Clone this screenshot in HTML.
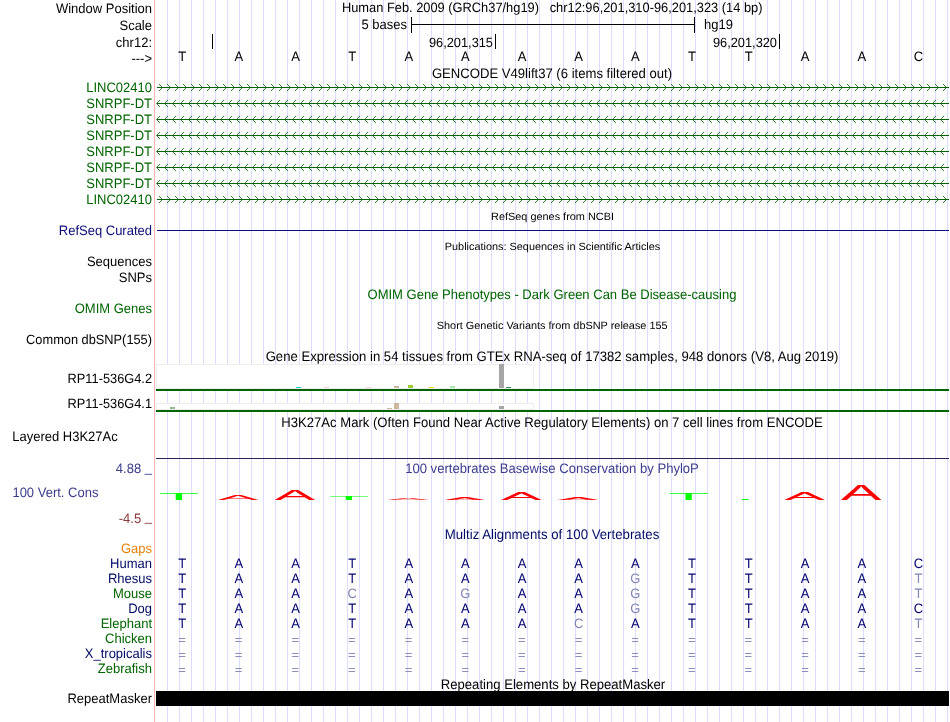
<!DOCTYPE html>
<html><head><meta charset="utf-8"><title>UCSC Genome Browser chr12:96,201,310-96,201,323</title>
<style>html,body{margin:0;padding:0;background:#fff;}svg{display:block;font-family:"Liberation Sans", Arial, Helvetica, sans-serif;text-rendering:geometricPrecision;}</style></head>
<body><svg width="950" height="722" viewBox="0 0 950 722">
<rect width="950" height="722" fill="#fff"/>
<path d="M167.5 0V722M179.5 0V722M191.5 0V722M203.5 0V722M215.5 0V722M227.5 0V722M239.5 0V722M251.5 0V722M263.5 0V722M275.5 0V722M287.5 0V722M299.5 0V722M311.5 0V722M323.5 0V722M335.5 0V722M347.5 0V722M359.5 0V722M371.5 0V722M383.5 0V722M395.5 0V722M407.5 0V722M419.5 0V722M431.5 0V722M443.5 0V722M455.5 0V722M467.5 0V722M479.5 0V722M491.5 0V722M503.5 0V722M515.5 0V722M527.5 0V722M539.5 0V722M551.5 0V722M563.5 0V722M575.5 0V722M587.5 0V722M599.5 0V722M611.5 0V722M623.5 0V722M635.5 0V722M647.5 0V722M659.5 0V722M671.5 0V722M683.5 0V722M695.5 0V722M707.5 0V722M719.5 0V722M731.5 0V722M743.5 0V722M755.5 0V722M767.5 0V722M779.5 0V722M791.5 0V722M803.5 0V722M815.5 0V722M827.5 0V722M839.5 0V722M851.5 0V722M863.5 0V722M875.5 0V722M887.5 0V722M899.5 0V722M911.5 0V722M923.5 0V722M935.5 0V722M947.5 0V722" stroke="#dcdcff" stroke-width="1" fill="none" shape-rendering="crispEdges"/>
<rect x="154" y="0" width="1" height="722" fill="#ffb4b4"/>
<text transform="translate(152,13) scale(1,1.05)" fill="#000000" text-anchor="end" font-size="13" >Window Position</text>
<text transform="translate(152,30) scale(1,1.05)" fill="#000000" text-anchor="end" font-size="13" >Scale</text>
<text transform="translate(152,47) scale(1,1.05)" fill="#000000" text-anchor="end" font-size="13" >chr12:</text>
<text transform="translate(152,62.7) scale(1,1.05)" fill="#000000" text-anchor="end" font-size="13" >---&gt;</text>
<text transform="translate(552.2,12) scale(1,1.05)" fill="#000000" text-anchor="middle" font-size="12.85" xml:space="preserve">Human Feb. 2009 (GRCh37/hg19)   chr12:96,201,310-96,201,323 (14 bp)</text>
<text transform="translate(407,29) scale(1,1.05)" fill="#000000" text-anchor="end" font-size="13" >5 bases</text>
<rect x="411" y="17" width="1" height="16" fill="#000000"/>
<rect x="694" y="17" width="1" height="16" fill="#000000"/>
<rect x="411" y="24" width="284" height="1" fill="#000000"/>
<text transform="translate(704,29) scale(1,1.05)" fill="#000000" text-anchor="start" font-size="13" >hg19</text>
<rect x="212" y="34" width="1" height="15" fill="#000000"/>
<rect x="495" y="34" width="1" height="15" fill="#000000"/>
<rect x="779" y="34" width="1" height="15" fill="#000000"/>
<text transform="translate(493,47) scale(1,1.05)" fill="#000000" text-anchor="end" font-size="12.8" >96,201,315</text>
<text transform="translate(777,47) scale(1,1.05)" fill="#000000" text-anchor="end" font-size="12.8" >96,201,320</text>
<text transform="translate(182.2,61) scale(1,1.05)" fill="#000000" text-anchor="middle" font-size="13" >T</text>
<text transform="translate(238.8,61) scale(1,1.05)" fill="#000000" text-anchor="middle" font-size="13" >A</text>
<text transform="translate(295.5,61) scale(1,1.05)" fill="#000000" text-anchor="middle" font-size="13" >A</text>
<text transform="translate(352.1,61) scale(1,1.05)" fill="#000000" text-anchor="middle" font-size="13" >T</text>
<text transform="translate(408.8,61) scale(1,1.05)" fill="#000000" text-anchor="middle" font-size="13" >A</text>
<text transform="translate(465.4,61) scale(1,1.05)" fill="#000000" text-anchor="middle" font-size="13" >A</text>
<text transform="translate(522.0,61) scale(1,1.05)" fill="#000000" text-anchor="middle" font-size="13" >A</text>
<text transform="translate(578.7,61) scale(1,1.05)" fill="#000000" text-anchor="middle" font-size="13" >A</text>
<text transform="translate(635.3,61) scale(1,1.05)" fill="#000000" text-anchor="middle" font-size="13" >A</text>
<text transform="translate(692.0,61) scale(1,1.05)" fill="#000000" text-anchor="middle" font-size="13" >T</text>
<text transform="translate(748.6,61) scale(1,1.05)" fill="#000000" text-anchor="middle" font-size="13" >T</text>
<text transform="translate(805.2,61) scale(1,1.05)" fill="#000000" text-anchor="middle" font-size="13" >A</text>
<text transform="translate(861.9,61) scale(1,1.05)" fill="#000000" text-anchor="middle" font-size="13" >A</text>
<text transform="translate(918.5,61) scale(1,1.05)" fill="#000000" text-anchor="middle" font-size="13" >C</text>
<text transform="translate(552,78) scale(1,1.05)" fill="#000000" text-anchor="middle" font-size="13.1" >GENCODE V49lift37 (6 items filtered out)</text>
<text transform="translate(152,92) scale(1,1.05)" fill="#006400" text-anchor="end" font-size="13" >LINC02410</text>
<rect x="157" y="87" width="792" height="1" fill="#006400"/>
<path d="M159 84L162 87M162 88L159 91M167 84L170 87M170 88L167 91M175 84L178 87M178 88L175 91M183 84L186 87M186 88L183 91M191 84L194 87M194 88L191 91M199 84L202 87M202 88L199 91M207 84L210 87M210 88L207 91M215 84L218 87M218 88L215 91M223 84L226 87M226 88L223 91M231 84L234 87M234 88L231 91M239 84L242 87M242 88L239 91M247 84L250 87M250 88L247 91M255 84L258 87M258 88L255 91M263 84L266 87M266 88L263 91M271 84L274 87M274 88L271 91M279 84L282 87M282 88L279 91M287 84L290 87M290 88L287 91M295 84L298 87M298 88L295 91M303 84L306 87M306 88L303 91M311 84L314 87M314 88L311 91M319 84L322 87M322 88L319 91M327 84L330 87M330 88L327 91M335 84L338 87M338 88L335 91M343 84L346 87M346 88L343 91M351 84L354 87M354 88L351 91M359 84L362 87M362 88L359 91M367 84L370 87M370 88L367 91M375 84L378 87M378 88L375 91M383 84L386 87M386 88L383 91M391 84L394 87M394 88L391 91M399 84L402 87M402 88L399 91M407 84L410 87M410 88L407 91M415 84L418 87M418 88L415 91M423 84L426 87M426 88L423 91M431 84L434 87M434 88L431 91M439 84L442 87M442 88L439 91M447 84L450 87M450 88L447 91M455 84L458 87M458 88L455 91M463 84L466 87M466 88L463 91M471 84L474 87M474 88L471 91M479 84L482 87M482 88L479 91M487 84L490 87M490 88L487 91M495 84L498 87M498 88L495 91M503 84L506 87M506 88L503 91M511 84L514 87M514 88L511 91M519 84L522 87M522 88L519 91M527 84L530 87M530 88L527 91M535 84L538 87M538 88L535 91M543 84L546 87M546 88L543 91M551 84L554 87M554 88L551 91M559 84L562 87M562 88L559 91M567 84L570 87M570 88L567 91M575 84L578 87M578 88L575 91M583 84L586 87M586 88L583 91M591 84L594 87M594 88L591 91M599 84L602 87M602 88L599 91M607 84L610 87M610 88L607 91M615 84L618 87M618 88L615 91M623 84L626 87M626 88L623 91M631 84L634 87M634 88L631 91M639 84L642 87M642 88L639 91M647 84L650 87M650 88L647 91M655 84L658 87M658 88L655 91M663 84L666 87M666 88L663 91M671 84L674 87M674 88L671 91M679 84L682 87M682 88L679 91M687 84L690 87M690 88L687 91M695 84L698 87M698 88L695 91M703 84L706 87M706 88L703 91M711 84L714 87M714 88L711 91M719 84L722 87M722 88L719 91M727 84L730 87M730 88L727 91M735 84L738 87M738 88L735 91M743 84L746 87M746 88L743 91M751 84L754 87M754 88L751 91M759 84L762 87M762 88L759 91M767 84L770 87M770 88L767 91M775 84L778 87M778 88L775 91M783 84L786 87M786 88L783 91M791 84L794 87M794 88L791 91M799 84L802 87M802 88L799 91M807 84L810 87M810 88L807 91M815 84L818 87M818 88L815 91M823 84L826 87M826 88L823 91M831 84L834 87M834 88L831 91M839 84L842 87M842 88L839 91M847 84L850 87M850 88L847 91M855 84L858 87M858 88L855 91M863 84L866 87M866 88L863 91M871 84L874 87M874 88L871 91M879 84L882 87M882 88L879 91M887 84L890 87M890 88L887 91M895 84L898 87M898 88L895 91M903 84L906 87M906 88L903 91M911 84L914 87M914 88L911 91M919 84L922 87M922 88L919 91M927 84L930 87M930 88L927 91M935 84L938 87M938 88L935 91M943 84L946 87M946 88L943 91" stroke="#006400" stroke-width="0.8" fill="none"/>
<text transform="translate(152,108) scale(1,1.05)" fill="#006400" text-anchor="end" font-size="13" >SNRPF-DT</text>
<rect x="156.4" y="103" width="792.6" height="1" fill="#006400"/>
<path d="M160 100L157 103M157 104L160 107M168 100L165 103M165 104L168 107M176 100L173 103M173 104L176 107M184 100L181 103M181 104L184 107M192 100L189 103M189 104L192 107M200 100L197 103M197 104L200 107M208 100L205 103M205 104L208 107M216 100L213 103M213 104L216 107M224 100L221 103M221 104L224 107M232 100L229 103M229 104L232 107M240 100L237 103M237 104L240 107M248 100L245 103M245 104L248 107M256 100L253 103M253 104L256 107M264 100L261 103M261 104L264 107M272 100L269 103M269 104L272 107M280 100L277 103M277 104L280 107M288 100L285 103M285 104L288 107M296 100L293 103M293 104L296 107M304 100L301 103M301 104L304 107M312 100L309 103M309 104L312 107M320 100L317 103M317 104L320 107M328 100L325 103M325 104L328 107M336 100L333 103M333 104L336 107M344 100L341 103M341 104L344 107M352 100L349 103M349 104L352 107M360 100L357 103M357 104L360 107M368 100L365 103M365 104L368 107M376 100L373 103M373 104L376 107M384 100L381 103M381 104L384 107M392 100L389 103M389 104L392 107M400 100L397 103M397 104L400 107M408 100L405 103M405 104L408 107M416 100L413 103M413 104L416 107M424 100L421 103M421 104L424 107M432 100L429 103M429 104L432 107M440 100L437 103M437 104L440 107M448 100L445 103M445 104L448 107M456 100L453 103M453 104L456 107M464 100L461 103M461 104L464 107M472 100L469 103M469 104L472 107M480 100L477 103M477 104L480 107M488 100L485 103M485 104L488 107M496 100L493 103M493 104L496 107M504 100L501 103M501 104L504 107M512 100L509 103M509 104L512 107M520 100L517 103M517 104L520 107M528 100L525 103M525 104L528 107M536 100L533 103M533 104L536 107M544 100L541 103M541 104L544 107M552 100L549 103M549 104L552 107M560 100L557 103M557 104L560 107M568 100L565 103M565 104L568 107M576 100L573 103M573 104L576 107M584 100L581 103M581 104L584 107M592 100L589 103M589 104L592 107M600 100L597 103M597 104L600 107M608 100L605 103M605 104L608 107M616 100L613 103M613 104L616 107M624 100L621 103M621 104L624 107M632 100L629 103M629 104L632 107M640 100L637 103M637 104L640 107M648 100L645 103M645 104L648 107M656 100L653 103M653 104L656 107M664 100L661 103M661 104L664 107M672 100L669 103M669 104L672 107M680 100L677 103M677 104L680 107M688 100L685 103M685 104L688 107M696 100L693 103M693 104L696 107M704 100L701 103M701 104L704 107M712 100L709 103M709 104L712 107M720 100L717 103M717 104L720 107M728 100L725 103M725 104L728 107M736 100L733 103M733 104L736 107M744 100L741 103M741 104L744 107M752 100L749 103M749 104L752 107M760 100L757 103M757 104L760 107M768 100L765 103M765 104L768 107M776 100L773 103M773 104L776 107M784 100L781 103M781 104L784 107M792 100L789 103M789 104L792 107M800 100L797 103M797 104L800 107M808 100L805 103M805 104L808 107M816 100L813 103M813 104L816 107M824 100L821 103M821 104L824 107M832 100L829 103M829 104L832 107M840 100L837 103M837 104L840 107M848 100L845 103M845 104L848 107M856 100L853 103M853 104L856 107M864 100L861 103M861 104L864 107M872 100L869 103M869 104L872 107M880 100L877 103M877 104L880 107M888 100L885 103M885 104L888 107M896 100L893 103M893 104L896 107M904 100L901 103M901 104L904 107M912 100L909 103M909 104L912 107M920 100L917 103M917 104L920 107M928 100L925 103M925 104L928 107M936 100L933 103M933 104L936 107M944 100L941 103M941 104L944 107" stroke="#006400" stroke-width="0.8" fill="none"/>
<text transform="translate(152,124) scale(1,1.05)" fill="#006400" text-anchor="end" font-size="13" >SNRPF-DT</text>
<rect x="156.4" y="119" width="792.6" height="1" fill="#006400"/>
<path d="M160 116L157 119M157 120L160 123M168 116L165 119M165 120L168 123M176 116L173 119M173 120L176 123M184 116L181 119M181 120L184 123M192 116L189 119M189 120L192 123M200 116L197 119M197 120L200 123M208 116L205 119M205 120L208 123M216 116L213 119M213 120L216 123M224 116L221 119M221 120L224 123M232 116L229 119M229 120L232 123M240 116L237 119M237 120L240 123M248 116L245 119M245 120L248 123M256 116L253 119M253 120L256 123M264 116L261 119M261 120L264 123M272 116L269 119M269 120L272 123M280 116L277 119M277 120L280 123M288 116L285 119M285 120L288 123M296 116L293 119M293 120L296 123M304 116L301 119M301 120L304 123M312 116L309 119M309 120L312 123M320 116L317 119M317 120L320 123M328 116L325 119M325 120L328 123M336 116L333 119M333 120L336 123M344 116L341 119M341 120L344 123M352 116L349 119M349 120L352 123M360 116L357 119M357 120L360 123M368 116L365 119M365 120L368 123M376 116L373 119M373 120L376 123M384 116L381 119M381 120L384 123M392 116L389 119M389 120L392 123M400 116L397 119M397 120L400 123M408 116L405 119M405 120L408 123M416 116L413 119M413 120L416 123M424 116L421 119M421 120L424 123M432 116L429 119M429 120L432 123M440 116L437 119M437 120L440 123M448 116L445 119M445 120L448 123M456 116L453 119M453 120L456 123M464 116L461 119M461 120L464 123M472 116L469 119M469 120L472 123M480 116L477 119M477 120L480 123M488 116L485 119M485 120L488 123M496 116L493 119M493 120L496 123M504 116L501 119M501 120L504 123M512 116L509 119M509 120L512 123M520 116L517 119M517 120L520 123M528 116L525 119M525 120L528 123M536 116L533 119M533 120L536 123M544 116L541 119M541 120L544 123M552 116L549 119M549 120L552 123M560 116L557 119M557 120L560 123M568 116L565 119M565 120L568 123M576 116L573 119M573 120L576 123M584 116L581 119M581 120L584 123M592 116L589 119M589 120L592 123M600 116L597 119M597 120L600 123M608 116L605 119M605 120L608 123M616 116L613 119M613 120L616 123M624 116L621 119M621 120L624 123M632 116L629 119M629 120L632 123M640 116L637 119M637 120L640 123M648 116L645 119M645 120L648 123M656 116L653 119M653 120L656 123M664 116L661 119M661 120L664 123M672 116L669 119M669 120L672 123M680 116L677 119M677 120L680 123M688 116L685 119M685 120L688 123M696 116L693 119M693 120L696 123M704 116L701 119M701 120L704 123M712 116L709 119M709 120L712 123M720 116L717 119M717 120L720 123M728 116L725 119M725 120L728 123M736 116L733 119M733 120L736 123M744 116L741 119M741 120L744 123M752 116L749 119M749 120L752 123M760 116L757 119M757 120L760 123M768 116L765 119M765 120L768 123M776 116L773 119M773 120L776 123M784 116L781 119M781 120L784 123M792 116L789 119M789 120L792 123M800 116L797 119M797 120L800 123M808 116L805 119M805 120L808 123M816 116L813 119M813 120L816 123M824 116L821 119M821 120L824 123M832 116L829 119M829 120L832 123M840 116L837 119M837 120L840 123M848 116L845 119M845 120L848 123M856 116L853 119M853 120L856 123M864 116L861 119M861 120L864 123M872 116L869 119M869 120L872 123M880 116L877 119M877 120L880 123M888 116L885 119M885 120L888 123M896 116L893 119M893 120L896 123M904 116L901 119M901 120L904 123M912 116L909 119M909 120L912 123M920 116L917 119M917 120L920 123M928 116L925 119M925 120L928 123M936 116L933 119M933 120L936 123M944 116L941 119M941 120L944 123" stroke="#006400" stroke-width="0.8" fill="none"/>
<text transform="translate(152,140) scale(1,1.05)" fill="#006400" text-anchor="end" font-size="13" >SNRPF-DT</text>
<rect x="156.4" y="135" width="792.6" height="1" fill="#006400"/>
<path d="M160 132L157 135M157 136L160 139M168 132L165 135M165 136L168 139M176 132L173 135M173 136L176 139M184 132L181 135M181 136L184 139M192 132L189 135M189 136L192 139M200 132L197 135M197 136L200 139M208 132L205 135M205 136L208 139M216 132L213 135M213 136L216 139M224 132L221 135M221 136L224 139M232 132L229 135M229 136L232 139M240 132L237 135M237 136L240 139M248 132L245 135M245 136L248 139M256 132L253 135M253 136L256 139M264 132L261 135M261 136L264 139M272 132L269 135M269 136L272 139M280 132L277 135M277 136L280 139M288 132L285 135M285 136L288 139M296 132L293 135M293 136L296 139M304 132L301 135M301 136L304 139M312 132L309 135M309 136L312 139M320 132L317 135M317 136L320 139M328 132L325 135M325 136L328 139M336 132L333 135M333 136L336 139M344 132L341 135M341 136L344 139M352 132L349 135M349 136L352 139M360 132L357 135M357 136L360 139M368 132L365 135M365 136L368 139M376 132L373 135M373 136L376 139M384 132L381 135M381 136L384 139M392 132L389 135M389 136L392 139M400 132L397 135M397 136L400 139M408 132L405 135M405 136L408 139M416 132L413 135M413 136L416 139M424 132L421 135M421 136L424 139M432 132L429 135M429 136L432 139M440 132L437 135M437 136L440 139M448 132L445 135M445 136L448 139M456 132L453 135M453 136L456 139M464 132L461 135M461 136L464 139M472 132L469 135M469 136L472 139M480 132L477 135M477 136L480 139M488 132L485 135M485 136L488 139M496 132L493 135M493 136L496 139M504 132L501 135M501 136L504 139M512 132L509 135M509 136L512 139M520 132L517 135M517 136L520 139M528 132L525 135M525 136L528 139M536 132L533 135M533 136L536 139M544 132L541 135M541 136L544 139M552 132L549 135M549 136L552 139M560 132L557 135M557 136L560 139M568 132L565 135M565 136L568 139M576 132L573 135M573 136L576 139M584 132L581 135M581 136L584 139M592 132L589 135M589 136L592 139M600 132L597 135M597 136L600 139M608 132L605 135M605 136L608 139M616 132L613 135M613 136L616 139M624 132L621 135M621 136L624 139M632 132L629 135M629 136L632 139M640 132L637 135M637 136L640 139M648 132L645 135M645 136L648 139M656 132L653 135M653 136L656 139M664 132L661 135M661 136L664 139M672 132L669 135M669 136L672 139M680 132L677 135M677 136L680 139M688 132L685 135M685 136L688 139M696 132L693 135M693 136L696 139M704 132L701 135M701 136L704 139M712 132L709 135M709 136L712 139M720 132L717 135M717 136L720 139M728 132L725 135M725 136L728 139M736 132L733 135M733 136L736 139M744 132L741 135M741 136L744 139M752 132L749 135M749 136L752 139M760 132L757 135M757 136L760 139M768 132L765 135M765 136L768 139M776 132L773 135M773 136L776 139M784 132L781 135M781 136L784 139M792 132L789 135M789 136L792 139M800 132L797 135M797 136L800 139M808 132L805 135M805 136L808 139M816 132L813 135M813 136L816 139M824 132L821 135M821 136L824 139M832 132L829 135M829 136L832 139M840 132L837 135M837 136L840 139M848 132L845 135M845 136L848 139M856 132L853 135M853 136L856 139M864 132L861 135M861 136L864 139M872 132L869 135M869 136L872 139M880 132L877 135M877 136L880 139M888 132L885 135M885 136L888 139M896 132L893 135M893 136L896 139M904 132L901 135M901 136L904 139M912 132L909 135M909 136L912 139M920 132L917 135M917 136L920 139M928 132L925 135M925 136L928 139M936 132L933 135M933 136L936 139M944 132L941 135M941 136L944 139" stroke="#006400" stroke-width="0.8" fill="none"/>
<text transform="translate(152,156) scale(1,1.05)" fill="#006400" text-anchor="end" font-size="13" >SNRPF-DT</text>
<rect x="156.4" y="151" width="792.6" height="1" fill="#006400"/>
<path d="M160 148L157 151M157 152L160 155M168 148L165 151M165 152L168 155M176 148L173 151M173 152L176 155M184 148L181 151M181 152L184 155M192 148L189 151M189 152L192 155M200 148L197 151M197 152L200 155M208 148L205 151M205 152L208 155M216 148L213 151M213 152L216 155M224 148L221 151M221 152L224 155M232 148L229 151M229 152L232 155M240 148L237 151M237 152L240 155M248 148L245 151M245 152L248 155M256 148L253 151M253 152L256 155M264 148L261 151M261 152L264 155M272 148L269 151M269 152L272 155M280 148L277 151M277 152L280 155M288 148L285 151M285 152L288 155M296 148L293 151M293 152L296 155M304 148L301 151M301 152L304 155M312 148L309 151M309 152L312 155M320 148L317 151M317 152L320 155M328 148L325 151M325 152L328 155M336 148L333 151M333 152L336 155M344 148L341 151M341 152L344 155M352 148L349 151M349 152L352 155M360 148L357 151M357 152L360 155M368 148L365 151M365 152L368 155M376 148L373 151M373 152L376 155M384 148L381 151M381 152L384 155M392 148L389 151M389 152L392 155M400 148L397 151M397 152L400 155M408 148L405 151M405 152L408 155M416 148L413 151M413 152L416 155M424 148L421 151M421 152L424 155M432 148L429 151M429 152L432 155M440 148L437 151M437 152L440 155M448 148L445 151M445 152L448 155M456 148L453 151M453 152L456 155M464 148L461 151M461 152L464 155M472 148L469 151M469 152L472 155M480 148L477 151M477 152L480 155M488 148L485 151M485 152L488 155M496 148L493 151M493 152L496 155M504 148L501 151M501 152L504 155M512 148L509 151M509 152L512 155M520 148L517 151M517 152L520 155M528 148L525 151M525 152L528 155M536 148L533 151M533 152L536 155M544 148L541 151M541 152L544 155M552 148L549 151M549 152L552 155M560 148L557 151M557 152L560 155M568 148L565 151M565 152L568 155M576 148L573 151M573 152L576 155M584 148L581 151M581 152L584 155M592 148L589 151M589 152L592 155M600 148L597 151M597 152L600 155M608 148L605 151M605 152L608 155M616 148L613 151M613 152L616 155M624 148L621 151M621 152L624 155M632 148L629 151M629 152L632 155M640 148L637 151M637 152L640 155M648 148L645 151M645 152L648 155M656 148L653 151M653 152L656 155M664 148L661 151M661 152L664 155M672 148L669 151M669 152L672 155M680 148L677 151M677 152L680 155M688 148L685 151M685 152L688 155M696 148L693 151M693 152L696 155M704 148L701 151M701 152L704 155M712 148L709 151M709 152L712 155M720 148L717 151M717 152L720 155M728 148L725 151M725 152L728 155M736 148L733 151M733 152L736 155M744 148L741 151M741 152L744 155M752 148L749 151M749 152L752 155M760 148L757 151M757 152L760 155M768 148L765 151M765 152L768 155M776 148L773 151M773 152L776 155M784 148L781 151M781 152L784 155M792 148L789 151M789 152L792 155M800 148L797 151M797 152L800 155M808 148L805 151M805 152L808 155M816 148L813 151M813 152L816 155M824 148L821 151M821 152L824 155M832 148L829 151M829 152L832 155M840 148L837 151M837 152L840 155M848 148L845 151M845 152L848 155M856 148L853 151M853 152L856 155M864 148L861 151M861 152L864 155M872 148L869 151M869 152L872 155M880 148L877 151M877 152L880 155M888 148L885 151M885 152L888 155M896 148L893 151M893 152L896 155M904 148L901 151M901 152L904 155M912 148L909 151M909 152L912 155M920 148L917 151M917 152L920 155M928 148L925 151M925 152L928 155M936 148L933 151M933 152L936 155M944 148L941 151M941 152L944 155" stroke="#006400" stroke-width="0.8" fill="none"/>
<text transform="translate(152,172) scale(1,1.05)" fill="#006400" text-anchor="end" font-size="13" >SNRPF-DT</text>
<rect x="156.4" y="167" width="792.6" height="1" fill="#006400"/>
<path d="M160 164L157 167M157 168L160 171M168 164L165 167M165 168L168 171M176 164L173 167M173 168L176 171M184 164L181 167M181 168L184 171M192 164L189 167M189 168L192 171M200 164L197 167M197 168L200 171M208 164L205 167M205 168L208 171M216 164L213 167M213 168L216 171M224 164L221 167M221 168L224 171M232 164L229 167M229 168L232 171M240 164L237 167M237 168L240 171M248 164L245 167M245 168L248 171M256 164L253 167M253 168L256 171M264 164L261 167M261 168L264 171M272 164L269 167M269 168L272 171M280 164L277 167M277 168L280 171M288 164L285 167M285 168L288 171M296 164L293 167M293 168L296 171M304 164L301 167M301 168L304 171M312 164L309 167M309 168L312 171M320 164L317 167M317 168L320 171M328 164L325 167M325 168L328 171M336 164L333 167M333 168L336 171M344 164L341 167M341 168L344 171M352 164L349 167M349 168L352 171M360 164L357 167M357 168L360 171M368 164L365 167M365 168L368 171M376 164L373 167M373 168L376 171M384 164L381 167M381 168L384 171M392 164L389 167M389 168L392 171M400 164L397 167M397 168L400 171M408 164L405 167M405 168L408 171M416 164L413 167M413 168L416 171M424 164L421 167M421 168L424 171M432 164L429 167M429 168L432 171M440 164L437 167M437 168L440 171M448 164L445 167M445 168L448 171M456 164L453 167M453 168L456 171M464 164L461 167M461 168L464 171M472 164L469 167M469 168L472 171M480 164L477 167M477 168L480 171M488 164L485 167M485 168L488 171M496 164L493 167M493 168L496 171M504 164L501 167M501 168L504 171M512 164L509 167M509 168L512 171M520 164L517 167M517 168L520 171M528 164L525 167M525 168L528 171M536 164L533 167M533 168L536 171M544 164L541 167M541 168L544 171M552 164L549 167M549 168L552 171M560 164L557 167M557 168L560 171M568 164L565 167M565 168L568 171M576 164L573 167M573 168L576 171M584 164L581 167M581 168L584 171M592 164L589 167M589 168L592 171M600 164L597 167M597 168L600 171M608 164L605 167M605 168L608 171M616 164L613 167M613 168L616 171M624 164L621 167M621 168L624 171M632 164L629 167M629 168L632 171M640 164L637 167M637 168L640 171M648 164L645 167M645 168L648 171M656 164L653 167M653 168L656 171M664 164L661 167M661 168L664 171M672 164L669 167M669 168L672 171M680 164L677 167M677 168L680 171M688 164L685 167M685 168L688 171M696 164L693 167M693 168L696 171M704 164L701 167M701 168L704 171M712 164L709 167M709 168L712 171M720 164L717 167M717 168L720 171M728 164L725 167M725 168L728 171M736 164L733 167M733 168L736 171M744 164L741 167M741 168L744 171M752 164L749 167M749 168L752 171M760 164L757 167M757 168L760 171M768 164L765 167M765 168L768 171M776 164L773 167M773 168L776 171M784 164L781 167M781 168L784 171M792 164L789 167M789 168L792 171M800 164L797 167M797 168L800 171M808 164L805 167M805 168L808 171M816 164L813 167M813 168L816 171M824 164L821 167M821 168L824 171M832 164L829 167M829 168L832 171M840 164L837 167M837 168L840 171M848 164L845 167M845 168L848 171M856 164L853 167M853 168L856 171M864 164L861 167M861 168L864 171M872 164L869 167M869 168L872 171M880 164L877 167M877 168L880 171M888 164L885 167M885 168L888 171M896 164L893 167M893 168L896 171M904 164L901 167M901 168L904 171M912 164L909 167M909 168L912 171M920 164L917 167M917 168L920 171M928 164L925 167M925 168L928 171M936 164L933 167M933 168L936 171M944 164L941 167M941 168L944 171" stroke="#006400" stroke-width="0.8" fill="none"/>
<text transform="translate(152,188) scale(1,1.05)" fill="#006400" text-anchor="end" font-size="13" >SNRPF-DT</text>
<rect x="156.4" y="183" width="792.6" height="1" fill="#006400"/>
<path d="M160 180L157 183M157 184L160 187M168 180L165 183M165 184L168 187M176 180L173 183M173 184L176 187M184 180L181 183M181 184L184 187M192 180L189 183M189 184L192 187M200 180L197 183M197 184L200 187M208 180L205 183M205 184L208 187M216 180L213 183M213 184L216 187M224 180L221 183M221 184L224 187M232 180L229 183M229 184L232 187M240 180L237 183M237 184L240 187M248 180L245 183M245 184L248 187M256 180L253 183M253 184L256 187M264 180L261 183M261 184L264 187M272 180L269 183M269 184L272 187M280 180L277 183M277 184L280 187M288 180L285 183M285 184L288 187M296 180L293 183M293 184L296 187M304 180L301 183M301 184L304 187M312 180L309 183M309 184L312 187M320 180L317 183M317 184L320 187M328 180L325 183M325 184L328 187M336 180L333 183M333 184L336 187M344 180L341 183M341 184L344 187M352 180L349 183M349 184L352 187M360 180L357 183M357 184L360 187M368 180L365 183M365 184L368 187M376 180L373 183M373 184L376 187M384 180L381 183M381 184L384 187M392 180L389 183M389 184L392 187M400 180L397 183M397 184L400 187M408 180L405 183M405 184L408 187M416 180L413 183M413 184L416 187M424 180L421 183M421 184L424 187M432 180L429 183M429 184L432 187M440 180L437 183M437 184L440 187M448 180L445 183M445 184L448 187M456 180L453 183M453 184L456 187M464 180L461 183M461 184L464 187M472 180L469 183M469 184L472 187M480 180L477 183M477 184L480 187M488 180L485 183M485 184L488 187M496 180L493 183M493 184L496 187M504 180L501 183M501 184L504 187M512 180L509 183M509 184L512 187M520 180L517 183M517 184L520 187M528 180L525 183M525 184L528 187M536 180L533 183M533 184L536 187M544 180L541 183M541 184L544 187M552 180L549 183M549 184L552 187M560 180L557 183M557 184L560 187M568 180L565 183M565 184L568 187M576 180L573 183M573 184L576 187M584 180L581 183M581 184L584 187M592 180L589 183M589 184L592 187M600 180L597 183M597 184L600 187M608 180L605 183M605 184L608 187M616 180L613 183M613 184L616 187M624 180L621 183M621 184L624 187M632 180L629 183M629 184L632 187M640 180L637 183M637 184L640 187M648 180L645 183M645 184L648 187M656 180L653 183M653 184L656 187M664 180L661 183M661 184L664 187M672 180L669 183M669 184L672 187M680 180L677 183M677 184L680 187M688 180L685 183M685 184L688 187M696 180L693 183M693 184L696 187M704 180L701 183M701 184L704 187M712 180L709 183M709 184L712 187M720 180L717 183M717 184L720 187M728 180L725 183M725 184L728 187M736 180L733 183M733 184L736 187M744 180L741 183M741 184L744 187M752 180L749 183M749 184L752 187M760 180L757 183M757 184L760 187M768 180L765 183M765 184L768 187M776 180L773 183M773 184L776 187M784 180L781 183M781 184L784 187M792 180L789 183M789 184L792 187M800 180L797 183M797 184L800 187M808 180L805 183M805 184L808 187M816 180L813 183M813 184L816 187M824 180L821 183M821 184L824 187M832 180L829 183M829 184L832 187M840 180L837 183M837 184L840 187M848 180L845 183M845 184L848 187M856 180L853 183M853 184L856 187M864 180L861 183M861 184L864 187M872 180L869 183M869 184L872 187M880 180L877 183M877 184L880 187M888 180L885 183M885 184L888 187M896 180L893 183M893 184L896 187M904 180L901 183M901 184L904 187M912 180L909 183M909 184L912 187M920 180L917 183M917 184L920 187M928 180L925 183M925 184L928 187M936 180L933 183M933 184L936 187M944 180L941 183M941 184L944 187" stroke="#006400" stroke-width="0.8" fill="none"/>
<text transform="translate(152,204) scale(1,1.05)" fill="#006400" text-anchor="end" font-size="13" >LINC02410</text>
<rect x="157" y="199" width="792" height="1" fill="#006400"/>
<path d="M159 196L162 199M162 200L159 203M167 196L170 199M170 200L167 203M175 196L178 199M178 200L175 203M183 196L186 199M186 200L183 203M191 196L194 199M194 200L191 203M199 196L202 199M202 200L199 203M207 196L210 199M210 200L207 203M215 196L218 199M218 200L215 203M223 196L226 199M226 200L223 203M231 196L234 199M234 200L231 203M239 196L242 199M242 200L239 203M247 196L250 199M250 200L247 203M255 196L258 199M258 200L255 203M263 196L266 199M266 200L263 203M271 196L274 199M274 200L271 203M279 196L282 199M282 200L279 203M287 196L290 199M290 200L287 203M295 196L298 199M298 200L295 203M303 196L306 199M306 200L303 203M311 196L314 199M314 200L311 203M319 196L322 199M322 200L319 203M327 196L330 199M330 200L327 203M335 196L338 199M338 200L335 203M343 196L346 199M346 200L343 203M351 196L354 199M354 200L351 203M359 196L362 199M362 200L359 203M367 196L370 199M370 200L367 203M375 196L378 199M378 200L375 203M383 196L386 199M386 200L383 203M391 196L394 199M394 200L391 203M399 196L402 199M402 200L399 203M407 196L410 199M410 200L407 203M415 196L418 199M418 200L415 203M423 196L426 199M426 200L423 203M431 196L434 199M434 200L431 203M439 196L442 199M442 200L439 203M447 196L450 199M450 200L447 203M455 196L458 199M458 200L455 203M463 196L466 199M466 200L463 203M471 196L474 199M474 200L471 203M479 196L482 199M482 200L479 203M487 196L490 199M490 200L487 203M495 196L498 199M498 200L495 203M503 196L506 199M506 200L503 203M511 196L514 199M514 200L511 203M519 196L522 199M522 200L519 203M527 196L530 199M530 200L527 203M535 196L538 199M538 200L535 203M543 196L546 199M546 200L543 203M551 196L554 199M554 200L551 203M559 196L562 199M562 200L559 203M567 196L570 199M570 200L567 203M575 196L578 199M578 200L575 203M583 196L586 199M586 200L583 203M591 196L594 199M594 200L591 203M599 196L602 199M602 200L599 203M607 196L610 199M610 200L607 203M615 196L618 199M618 200L615 203M623 196L626 199M626 200L623 203M631 196L634 199M634 200L631 203M639 196L642 199M642 200L639 203M647 196L650 199M650 200L647 203M655 196L658 199M658 200L655 203M663 196L666 199M666 200L663 203M671 196L674 199M674 200L671 203M679 196L682 199M682 200L679 203M687 196L690 199M690 200L687 203M695 196L698 199M698 200L695 203M703 196L706 199M706 200L703 203M711 196L714 199M714 200L711 203M719 196L722 199M722 200L719 203M727 196L730 199M730 200L727 203M735 196L738 199M738 200L735 203M743 196L746 199M746 200L743 203M751 196L754 199M754 200L751 203M759 196L762 199M762 200L759 203M767 196L770 199M770 200L767 203M775 196L778 199M778 200L775 203M783 196L786 199M786 200L783 203M791 196L794 199M794 200L791 203M799 196L802 199M802 200L799 203M807 196L810 199M810 200L807 203M815 196L818 199M818 200L815 203M823 196L826 199M826 200L823 203M831 196L834 199M834 200L831 203M839 196L842 199M842 200L839 203M847 196L850 199M850 200L847 203M855 196L858 199M858 200L855 203M863 196L866 199M866 200L863 203M871 196L874 199M874 200L871 203M879 196L882 199M882 200L879 203M887 196L890 199M890 200L887 203M895 196L898 199M898 200L895 203M903 196L906 199M906 200L903 203M911 196L914 199M914 200L911 203M919 196L922 199M922 200L919 203M927 196L930 199M930 200L927 203M935 196L938 199M938 200L935 203M943 196L946 199M946 200L943 203" stroke="#006400" stroke-width="0.8" fill="none"/>
<text transform="translate(552.5,219.7) scale(1,0.97)" fill="#000000" text-anchor="middle" font-size="10.9" >RefSeq genes from NCBI</text>
<text transform="translate(152,235) scale(1,1.05)" fill="#0c0c78" text-anchor="end" font-size="13" >RefSeq Curated</text>
<rect x="157" y="230" width="792" height="1" fill="#0c0c78"/>
<text transform="translate(552.5,250.3) scale(1,0.97)" fill="#000000" text-anchor="middle" font-size="10.9" >Publications: Sequences in Scientific Articles</text>
<text transform="translate(152,266) scale(1,1.05)" fill="#000000" text-anchor="end" font-size="13" >Sequences</text>
<text transform="translate(152,281.5) scale(1,1.05)" fill="#000000" text-anchor="end" font-size="13" >SNPs</text>
<text transform="translate(552,299) scale(1,1.05)" fill="#006400" text-anchor="middle" font-size="13.03" >OMIM Gene Phenotypes - Dark Green Can Be Disease-causing</text>
<text transform="translate(152,313) scale(1,1.05)" fill="#006400" text-anchor="end" font-size="13" >OMIM Genes</text>
<text transform="translate(552.2,329.2) scale(1,0.97)" fill="#000000" text-anchor="middle" font-size="10.9" >Short Genetic Variants from dbSNP release 155</text>
<text transform="translate(152,343.7) scale(1,1.05)" fill="#000000" text-anchor="end" font-size="12.8" >Common dbSNP(155)</text>
<text transform="translate(552,361) scale(1,1.05)" fill="#000000" text-anchor="middle" font-size="13.13" >Gene Expression in 54 tissues from GTEx RNA-seq of 17382 samples, 948 donors (V8, Aug 2019)</text>
<text transform="translate(152,382.6) scale(1,1.05)" fill="#000000" text-anchor="end" font-size="12.8" >RP11-536G4.2</text>
<text transform="translate(152,408) scale(1,1.05)" fill="#000000" text-anchor="end" font-size="12.8" >RP11-536G4.1</text>
<rect x="156.5" y="364.5" width="377" height="24" fill="#fff" stroke="#eeeeee"/>
<rect x="156.5" y="403.5" width="377" height="6" fill="#fff" stroke="#eeeeee"/>
<rect x="156" y="389" width="793" height="2" fill="#006400"/>
<rect x="156" y="410" width="793" height="2" fill="#006400"/>
<rect x="296" y="387" width="5" height="1" fill="#00cdcd"/>
<rect x="324" y="387" width="5" height="1" fill="#ffd0d4"/>
<rect x="366" y="387" width="5" height="1" fill="#ffd0d4"/>
<rect x="394" y="386" width="5" height="2" fill="#cdb79e"/>
<rect x="408" y="385" width="5" height="3" fill="#9acd32"/>
<rect x="429" y="387" width="5" height="1" fill="#ffd700"/>
<rect x="450" y="386" width="5" height="2" fill="#a8eda8"/>
<rect x="499" y="364" width="5" height="24" fill="#a6a6a6"/>
<rect x="506" y="387" width="5" height="1" fill="#2e8b57"/>
<rect x="170" y="407" width="5" height="2" fill="#8fbc8f"/>
<rect x="387" y="408" width="5" height="1" fill="#cdb79e"/>
<rect x="394" y="403" width="5" height="6" fill="#cdb79e"/>
<rect x="499" y="406" width="5" height="3" fill="#a6a6a6"/>
<text transform="translate(552,427) scale(1,1.05)" fill="#000000" text-anchor="middle" font-size="13.1" >H3K27Ac Mark (Often Found Near Active Regulatory Elements) on 7 cell lines from ENCODE</text>
<text transform="translate(12.2,441) scale(1,1.05)" fill="#000000" text-anchor="start" font-size="13" >Layered H3K27Ac</text>
<rect x="156" y="458" width="793" height="1" fill="#2a2456"/>
<text transform="translate(152,473) scale(1,1.05)" fill="#3c3c8c" text-anchor="end" font-size="13" >4.88 <tspan dy="-1.4">_</tspan></text>
<text transform="translate(552,473) scale(1,1.05)" fill="#3c3c8c" text-anchor="middle" font-size="13.09" >100 vertebrates Basewise Conservation by PhyloP</text>
<text transform="translate(12.4,497) scale(1,1.05)" fill="#3c3c8c" text-anchor="start" font-size="13" >100 Vert. Cons</text>
<text transform="translate(152,522.8) scale(1,1.05)" fill="#8c3c3c" text-anchor="end" font-size="13" >-4.5 <tspan dy="-1.4">_</tspan></text>
<clipPath id="lc"><rect x="156" y="470" width="794" height="30"/></clipPath><g clip-path="url(#lc)">
<text transform="translate(179.0,501) scale(0.6686,0.1017)" font-size="100" text-anchor="middle" fill="#00ff00" text-rendering="auto">T</text>
<text transform="translate(238.1,500) scale(0.6109,0.0727)" font-size="100" text-anchor="middle" fill="#ff0000" text-rendering="auto">A</text>
<text transform="translate(294.8,500) scale(0.6109,0.1453)" font-size="100" text-anchor="middle" fill="#ff0000" text-rendering="auto">A</text>
<text transform="translate(348.9,500) scale(0.6686,0.0581)" font-size="100" text-anchor="middle" fill="#00ff00" text-rendering="auto">T</text>
<text transform="translate(408.1,500) scale(0.6109,0.0291)" font-size="100" text-anchor="middle" fill="#ff0000" text-rendering="geometricPrecision">A</text>
<text transform="translate(464.7,500) scale(0.6109,0.0436)" font-size="100" text-anchor="middle" fill="#ff0000" text-rendering="auto">A</text>
<text transform="translate(521.3,500) scale(0.6109,0.1163)" font-size="100" text-anchor="middle" fill="#ff0000" text-rendering="auto">A</text>
<text transform="translate(578.0,500) scale(0.6109,0.0436)" font-size="100" text-anchor="middle" fill="#ff0000" text-rendering="auto">A</text>
<text transform="translate(688.8,501) scale(0.6686,0.1017)" font-size="100" text-anchor="middle" fill="#00ff00" text-rendering="auto">T</text>
<text transform="translate(745.4,500) scale(0.6686,0.0145)" font-size="100" text-anchor="middle" fill="#00ff00" text-rendering="geometricPrecision">T</text>
<text transform="translate(804.5,500) scale(0.6109,0.1163)" font-size="100" text-anchor="middle" fill="#ff0000" text-rendering="auto">A</text>
<text transform="translate(861.2,500) scale(0.6109,0.2180)" font-size="100" text-anchor="middle" fill="#ff0000" text-rendering="auto">A</text>
</g>
<text transform="translate(552,539) scale(1,1.05)" fill="#000a64" text-anchor="middle" font-size="13.23" >Multiz Alignments of 100 Vertebrates</text>
<text transform="translate(152,553) scale(1,1.05)" fill="#e6820a" text-anchor="end" font-size="13" >Gaps</text>
<text transform="translate(152,568) scale(1,1.05)" fill="#000a64" text-anchor="end" font-size="13" >Human</text>
<text transform="translate(182.2,568) scale(1,1.05)" fill="#00006e" text-anchor="middle" font-size="13" >T</text>
<text transform="translate(238.8,568) scale(1,1.05)" fill="#00006e" text-anchor="middle" font-size="13" >A</text>
<text transform="translate(295.5,568) scale(1,1.05)" fill="#00006e" text-anchor="middle" font-size="13" >A</text>
<text transform="translate(352.1,568) scale(1,1.05)" fill="#00006e" text-anchor="middle" font-size="13" >T</text>
<text transform="translate(408.8,568) scale(1,1.05)" fill="#00006e" text-anchor="middle" font-size="13" >A</text>
<text transform="translate(465.4,568) scale(1,1.05)" fill="#00006e" text-anchor="middle" font-size="13" >A</text>
<text transform="translate(522.0,568) scale(1,1.05)" fill="#00006e" text-anchor="middle" font-size="13" >A</text>
<text transform="translate(578.7,568) scale(1,1.05)" fill="#00006e" text-anchor="middle" font-size="13" >A</text>
<text transform="translate(635.3,568) scale(1,1.05)" fill="#00006e" text-anchor="middle" font-size="13" >A</text>
<text transform="translate(692.0,568) scale(1,1.05)" fill="#00006e" text-anchor="middle" font-size="13" >T</text>
<text transform="translate(748.6,568) scale(1,1.05)" fill="#00006e" text-anchor="middle" font-size="13" >T</text>
<text transform="translate(805.2,568) scale(1,1.05)" fill="#00006e" text-anchor="middle" font-size="13" >A</text>
<text transform="translate(861.9,568) scale(1,1.05)" fill="#00006e" text-anchor="middle" font-size="13" >A</text>
<text transform="translate(918.5,568) scale(1,1.05)" fill="#00006e" text-anchor="middle" font-size="13" >C</text>
<text transform="translate(152,583) scale(1,1.05)" fill="#000a64" text-anchor="end" font-size="13" >Rhesus</text>
<text transform="translate(182.2,583) scale(1,1.05)" fill="#00006e" text-anchor="middle" font-size="13" >T</text>
<text transform="translate(238.8,583) scale(1,1.05)" fill="#00006e" text-anchor="middle" font-size="13" >A</text>
<text transform="translate(295.5,583) scale(1,1.05)" fill="#00006e" text-anchor="middle" font-size="13" >A</text>
<text transform="translate(352.1,583) scale(1,1.05)" fill="#00006e" text-anchor="middle" font-size="13" >T</text>
<text transform="translate(408.8,583) scale(1,1.05)" fill="#00006e" text-anchor="middle" font-size="13" >A</text>
<text transform="translate(465.4,583) scale(1,1.05)" fill="#00006e" text-anchor="middle" font-size="13" >A</text>
<text transform="translate(522.0,583) scale(1,1.05)" fill="#00006e" text-anchor="middle" font-size="13" >A</text>
<text transform="translate(578.7,583) scale(1,1.05)" fill="#00006e" text-anchor="middle" font-size="13" >A</text>
<text transform="translate(635.3,583) scale(1,1.05)" fill="#8085b5" text-anchor="middle" font-size="13" >G</text>
<text transform="translate(692.0,583) scale(1,1.05)" fill="#00006e" text-anchor="middle" font-size="13" >T</text>
<text transform="translate(748.6,583) scale(1,1.05)" fill="#00006e" text-anchor="middle" font-size="13" >T</text>
<text transform="translate(805.2,583) scale(1,1.05)" fill="#00006e" text-anchor="middle" font-size="13" >A</text>
<text transform="translate(861.9,583) scale(1,1.05)" fill="#00006e" text-anchor="middle" font-size="13" >A</text>
<text transform="translate(918.5,583) scale(1,1.05)" fill="#8085b5" text-anchor="middle" font-size="13" >T</text>
<text transform="translate(152,598) scale(1,1.05)" fill="#006400" text-anchor="end" font-size="13" >Mouse</text>
<text transform="translate(182.2,598) scale(1,1.05)" fill="#00006e" text-anchor="middle" font-size="13" >T</text>
<text transform="translate(238.8,598) scale(1,1.05)" fill="#00006e" text-anchor="middle" font-size="13" >A</text>
<text transform="translate(295.5,598) scale(1,1.05)" fill="#00006e" text-anchor="middle" font-size="13" >A</text>
<text transform="translate(352.1,598) scale(1,1.05)" fill="#8085b5" text-anchor="middle" font-size="13" >C</text>
<text transform="translate(408.8,598) scale(1,1.05)" fill="#00006e" text-anchor="middle" font-size="13" >A</text>
<text transform="translate(465.4,598) scale(1,1.05)" fill="#8085b5" text-anchor="middle" font-size="13" >G</text>
<text transform="translate(522.0,598) scale(1,1.05)" fill="#00006e" text-anchor="middle" font-size="13" >A</text>
<text transform="translate(578.7,598) scale(1,1.05)" fill="#00006e" text-anchor="middle" font-size="13" >A</text>
<text transform="translate(635.3,598) scale(1,1.05)" fill="#8085b5" text-anchor="middle" font-size="13" >G</text>
<text transform="translate(692.0,598) scale(1,1.05)" fill="#00006e" text-anchor="middle" font-size="13" >T</text>
<text transform="translate(748.6,598) scale(1,1.05)" fill="#00006e" text-anchor="middle" font-size="13" >T</text>
<text transform="translate(805.2,598) scale(1,1.05)" fill="#00006e" text-anchor="middle" font-size="13" >A</text>
<text transform="translate(861.9,598) scale(1,1.05)" fill="#00006e" text-anchor="middle" font-size="13" >A</text>
<text transform="translate(918.5,598) scale(1,1.05)" fill="#8085b5" text-anchor="middle" font-size="13" >T</text>
<text transform="translate(152,613) scale(1,1.05)" fill="#000a64" text-anchor="end" font-size="13" >Dog</text>
<text transform="translate(182.2,613) scale(1,1.05)" fill="#00006e" text-anchor="middle" font-size="13" >T</text>
<text transform="translate(238.8,613) scale(1,1.05)" fill="#00006e" text-anchor="middle" font-size="13" >A</text>
<text transform="translate(295.5,613) scale(1,1.05)" fill="#00006e" text-anchor="middle" font-size="13" >A</text>
<text transform="translate(352.1,613) scale(1,1.05)" fill="#00006e" text-anchor="middle" font-size="13" >T</text>
<text transform="translate(408.8,613) scale(1,1.05)" fill="#00006e" text-anchor="middle" font-size="13" >A</text>
<text transform="translate(465.4,613) scale(1,1.05)" fill="#00006e" text-anchor="middle" font-size="13" >A</text>
<text transform="translate(522.0,613) scale(1,1.05)" fill="#00006e" text-anchor="middle" font-size="13" >A</text>
<text transform="translate(578.7,613) scale(1,1.05)" fill="#00006e" text-anchor="middle" font-size="13" >A</text>
<text transform="translate(635.3,613) scale(1,1.05)" fill="#8085b5" text-anchor="middle" font-size="13" >G</text>
<text transform="translate(692.0,613) scale(1,1.05)" fill="#00006e" text-anchor="middle" font-size="13" >T</text>
<text transform="translate(748.6,613) scale(1,1.05)" fill="#00006e" text-anchor="middle" font-size="13" >T</text>
<text transform="translate(805.2,613) scale(1,1.05)" fill="#00006e" text-anchor="middle" font-size="13" >A</text>
<text transform="translate(861.9,613) scale(1,1.05)" fill="#00006e" text-anchor="middle" font-size="13" >A</text>
<text transform="translate(918.5,613) scale(1,1.05)" fill="#00006e" text-anchor="middle" font-size="13" >C</text>
<text transform="translate(152,628) scale(1,1.05)" fill="#006400" text-anchor="end" font-size="13" >Elephant</text>
<text transform="translate(182.2,628) scale(1,1.05)" fill="#00006e" text-anchor="middle" font-size="13" >T</text>
<text transform="translate(238.8,628) scale(1,1.05)" fill="#00006e" text-anchor="middle" font-size="13" >A</text>
<text transform="translate(295.5,628) scale(1,1.05)" fill="#00006e" text-anchor="middle" font-size="13" >A</text>
<text transform="translate(352.1,628) scale(1,1.05)" fill="#00006e" text-anchor="middle" font-size="13" >T</text>
<text transform="translate(408.8,628) scale(1,1.05)" fill="#00006e" text-anchor="middle" font-size="13" >A</text>
<text transform="translate(465.4,628) scale(1,1.05)" fill="#00006e" text-anchor="middle" font-size="13" >A</text>
<text transform="translate(522.0,628) scale(1,1.05)" fill="#00006e" text-anchor="middle" font-size="13" >A</text>
<text transform="translate(578.7,628) scale(1,1.05)" fill="#8085b5" text-anchor="middle" font-size="13" >C</text>
<text transform="translate(635.3,628) scale(1,1.05)" fill="#00006e" text-anchor="middle" font-size="13" >A</text>
<text transform="translate(692.0,628) scale(1,1.05)" fill="#00006e" text-anchor="middle" font-size="13" >T</text>
<text transform="translate(748.6,628) scale(1,1.05)" fill="#00006e" text-anchor="middle" font-size="13" >T</text>
<text transform="translate(805.2,628) scale(1,1.05)" fill="#00006e" text-anchor="middle" font-size="13" >A</text>
<text transform="translate(861.9,628) scale(1,1.05)" fill="#00006e" text-anchor="middle" font-size="13" >A</text>
<text transform="translate(918.5,628) scale(1,1.05)" fill="#8085b5" text-anchor="middle" font-size="13" >T</text>
<text transform="translate(152,643) scale(1,1.05)" fill="#006400" text-anchor="end" font-size="13" >Chicken</text>
<text x="182.0" y="644" fill="#8a8fbc" text-anchor="middle" font-size="13" text-rendering="auto">=</text>
<text x="238.6" y="644" fill="#8a8fbc" text-anchor="middle" font-size="13" text-rendering="auto">=</text>
<text x="295.3" y="644" fill="#8a8fbc" text-anchor="middle" font-size="13" text-rendering="auto">=</text>
<text x="351.9" y="644" fill="#8a8fbc" text-anchor="middle" font-size="13" text-rendering="auto">=</text>
<text x="408.6" y="644" fill="#8a8fbc" text-anchor="middle" font-size="13" text-rendering="auto">=</text>
<text x="465.2" y="644" fill="#8a8fbc" text-anchor="middle" font-size="13" text-rendering="auto">=</text>
<text x="521.8" y="644" fill="#8a8fbc" text-anchor="middle" font-size="13" text-rendering="auto">=</text>
<text x="578.5" y="644" fill="#8a8fbc" text-anchor="middle" font-size="13" text-rendering="auto">=</text>
<text x="635.1" y="644" fill="#8a8fbc" text-anchor="middle" font-size="13" text-rendering="auto">=</text>
<text x="691.8" y="644" fill="#8a8fbc" text-anchor="middle" font-size="13" text-rendering="auto">=</text>
<text x="748.4" y="644" fill="#8a8fbc" text-anchor="middle" font-size="13" text-rendering="auto">=</text>
<text x="805.0" y="644" fill="#8a8fbc" text-anchor="middle" font-size="13" text-rendering="auto">=</text>
<text x="861.7" y="644" fill="#8a8fbc" text-anchor="middle" font-size="13" text-rendering="auto">=</text>
<text x="918.3" y="644" fill="#8a8fbc" text-anchor="middle" font-size="13" text-rendering="auto">=</text>
<text transform="translate(152,658) scale(1,1.05)" fill="#000a64" text-anchor="end" font-size="13" >X_tropicalis</text>
<text x="182.0" y="659" fill="#8a8fbc" text-anchor="middle" font-size="13" text-rendering="auto">=</text>
<text x="238.6" y="659" fill="#8a8fbc" text-anchor="middle" font-size="13" text-rendering="auto">=</text>
<text x="295.3" y="659" fill="#8a8fbc" text-anchor="middle" font-size="13" text-rendering="auto">=</text>
<text x="351.9" y="659" fill="#8a8fbc" text-anchor="middle" font-size="13" text-rendering="auto">=</text>
<text x="408.6" y="659" fill="#8a8fbc" text-anchor="middle" font-size="13" text-rendering="auto">=</text>
<text x="465.2" y="659" fill="#8a8fbc" text-anchor="middle" font-size="13" text-rendering="auto">=</text>
<text x="521.8" y="659" fill="#8a8fbc" text-anchor="middle" font-size="13" text-rendering="auto">=</text>
<text x="578.5" y="659" fill="#8a8fbc" text-anchor="middle" font-size="13" text-rendering="auto">=</text>
<text x="635.1" y="659" fill="#8a8fbc" text-anchor="middle" font-size="13" text-rendering="auto">=</text>
<text x="691.8" y="659" fill="#8a8fbc" text-anchor="middle" font-size="13" text-rendering="auto">=</text>
<text x="748.4" y="659" fill="#8a8fbc" text-anchor="middle" font-size="13" text-rendering="auto">=</text>
<text x="805.0" y="659" fill="#8a8fbc" text-anchor="middle" font-size="13" text-rendering="auto">=</text>
<text x="861.7" y="659" fill="#8a8fbc" text-anchor="middle" font-size="13" text-rendering="auto">=</text>
<text x="918.3" y="659" fill="#8a8fbc" text-anchor="middle" font-size="13" text-rendering="auto">=</text>
<text transform="translate(152,673) scale(1,1.05)" fill="#006400" text-anchor="end" font-size="13" >Zebrafish</text>
<text x="182.0" y="674" fill="#8a8fbc" text-anchor="middle" font-size="13" text-rendering="auto">=</text>
<text x="238.6" y="674" fill="#8a8fbc" text-anchor="middle" font-size="13" text-rendering="auto">=</text>
<text x="295.3" y="674" fill="#8a8fbc" text-anchor="middle" font-size="13" text-rendering="auto">=</text>
<text x="351.9" y="674" fill="#8a8fbc" text-anchor="middle" font-size="13" text-rendering="auto">=</text>
<text x="408.6" y="674" fill="#8a8fbc" text-anchor="middle" font-size="13" text-rendering="auto">=</text>
<text x="465.2" y="674" fill="#8a8fbc" text-anchor="middle" font-size="13" text-rendering="auto">=</text>
<text x="521.8" y="674" fill="#8a8fbc" text-anchor="middle" font-size="13" text-rendering="auto">=</text>
<text x="578.5" y="674" fill="#8a8fbc" text-anchor="middle" font-size="13" text-rendering="auto">=</text>
<text x="635.1" y="674" fill="#8a8fbc" text-anchor="middle" font-size="13" text-rendering="auto">=</text>
<text x="691.8" y="674" fill="#8a8fbc" text-anchor="middle" font-size="13" text-rendering="auto">=</text>
<text x="748.4" y="674" fill="#8a8fbc" text-anchor="middle" font-size="13" text-rendering="auto">=</text>
<text x="805.0" y="674" fill="#8a8fbc" text-anchor="middle" font-size="13" text-rendering="auto">=</text>
<text x="861.7" y="674" fill="#8a8fbc" text-anchor="middle" font-size="13" text-rendering="auto">=</text>
<text x="918.3" y="674" fill="#8a8fbc" text-anchor="middle" font-size="13" text-rendering="auto">=</text>
<text transform="translate(553,689) scale(1,1.05)" fill="#000000" text-anchor="middle" font-size="13.12" >Repeating Elements by RepeatMasker</text>
<text transform="translate(152,703) scale(1,1.05)" fill="#000000" text-anchor="end" font-size="13" >RepeatMasker</text>
<rect x="156" y="691" width="793" height="15" fill="#000"/>
</svg></body></html>
